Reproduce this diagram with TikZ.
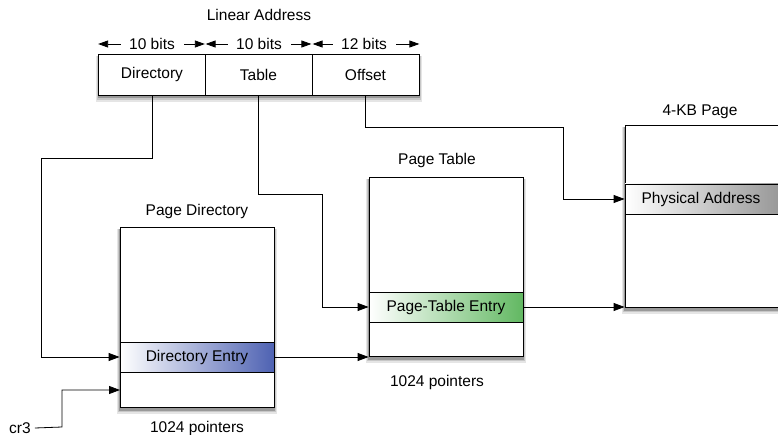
\documentclass[tikz,border=0pt]{standalone}
\usepackage{fontspec}
\setmainfont{Liberation Sans}
\usetikzlibrary{arrows.meta}

\definecolor{direntry}{RGB}{78,98,178}
\definecolor{tabentry}{RGB}{98,184,98}
\definecolor{physentry}{RGB}{150,150,150}

\tikzset{
    field/.style={draw, thick, fill=white, minimum width=107pt, minimum height=41pt, inner sep=0pt},
    membox/.style={draw, thick, fill=white, minimum width=154pt, inner sep=0pt},
    entry/.style={draw, thick, minimum width=154pt, minimum height=30pt, inner sep=0pt},
    caption/.style={inner sep=0pt},
    link/.style={thick, -{Triangle[length=11pt,width=8pt]}},
    bitarrow/.style={thick, -{Triangle[length=10pt,width=7pt]}}
}

% soft shadow: three stacked grey boxes of size #1 x #2 at #3
\newcommand{\softshadow}[3]{
    \fill[black!10] ($#3+(-#1/2-3,-#2/2+2)$) rectangle ($#3+(#1/2+3,#2/2+7)$);
    \fill[black!22] ($#3+(-#1/2-2,-#2/2+2)$) rectangle ($#3+(#1/2+2,#2/2+5)$);
    \fill[black!40] ($#3+(-#1/2-1,-#2/2+2)$) rectangle ($#3+(#1/2+1,#2/2+3.5)$);
}
\usetikzlibrary{calc}

\begin{document}
\begin{tikzpicture}[x=1pt, y=-1pt, font=\fontsize{15.5}{18}\selectfont]
    \useasboundingbox (0,0) rectangle (778,435);

    \softshadow{320}{41}{(259,74.5)}
    \softshadow{154}{180}{(197,317)}
    \softshadow{154}{179}{(446,266.5)}
    \softshadow{157}{182}{(703.5,216)}

    \node[caption] (title) at (259,15) {Linear Address};
    \node[field, minimum width=320pt] (addr) at (259,74.5) {};
    \node[field] (dir) at (152,74.5) {Directory};
    \node[field] (tab) at (258.5,74.5) {Table};
    \node[field] (off) at (365.5,74.5) {Offset};

    \node[caption] (b1) at (152,44) {10 bits};
    \node[caption] (b2) at (259,44) {10 bits};
    \node[caption] (b3) at (364,44) {12 bits};
    \draw[bitarrow] ([xshift=-8pt]b1.west) -- (dir.west |- b1.west);
    \draw[bitarrow] ([xshift=9pt]b1.east) -- ([xshift=-1pt]dir.east |- b1.east);
    \draw[bitarrow] ([xshift=-8pt]b2.west) -- ([xshift=1pt]tab.west |- b2.west);
    \draw[bitarrow] ([xshift=9pt]b2.east) -- ([xshift=-1pt]tab.east |- b2.east);
    \draw[bitarrow] ([xshift=-8pt]b3.west) -- ([xshift=1pt]off.west |- b3.west);
    \draw[bitarrow] ([xshift=9pt]b3.east) -- (off.east |- b3.east);

    % page directory
    \node[membox, minimum height=180pt] (pd) at (197,317) {};
    \node[entry, left color=white, right color=direntry] (pde) at (197,357) {Directory Entry};
    \node[caption] (pdname) at (197,211) {Page Directory};
    \node[caption] (pdcount) at (197,428) {1024 pointers};

    % page table
    \node[membox, minimum height=179pt] (pt) at (446,266.5) {};
    \node[entry, left color=white, right color=tabentry] (pte) at (446,307) {Page-Table Entry};
    \node[caption] (ptname) at (437,160) {Page Table};
    \node[caption] (ptcount) at (437,382) {1024 pointers};

    % 4-KB page
    \node[membox, minimum width=157pt, minimum height=182pt] (pg) at (703.5,216) {};
    \node[entry, minimum width=157pt, left color=white, right color=physentry] (pa) at (703.5,199) {};
    \node[caption] (paname) at (701,199) {Physical Address};
    \node[caption] (pgname) at (700,112) {4-KB Page};

    \node[caption] (cr3) at (20,428) {cr3};

    \coordinate (dbend) at (41,158);
    \coordinate (tbend) at (322,194);
    \coordinate (obend) at (563,127);
    \coordinate (cbend) at (62,427);
    \coordinate (crin) at (120,390);

    \draw[link] (dir.south) |- (dbend) |- (pde.west);
    \draw[link] (tab.south) |- (tbend) |- (pte.west);
    \draw[link] (off.south) |- (obend) |- (pa.west);
    \draw[link] (pde.east) -- (pde.east -| pt.west);
    \draw[link] (pte.east) -- (pte.east -| pg.west);
    \draw[link] ([xshift=4pt]cr3.east) -- (cbend) |- (crin);
\end{tikzpicture}
\end{document}
